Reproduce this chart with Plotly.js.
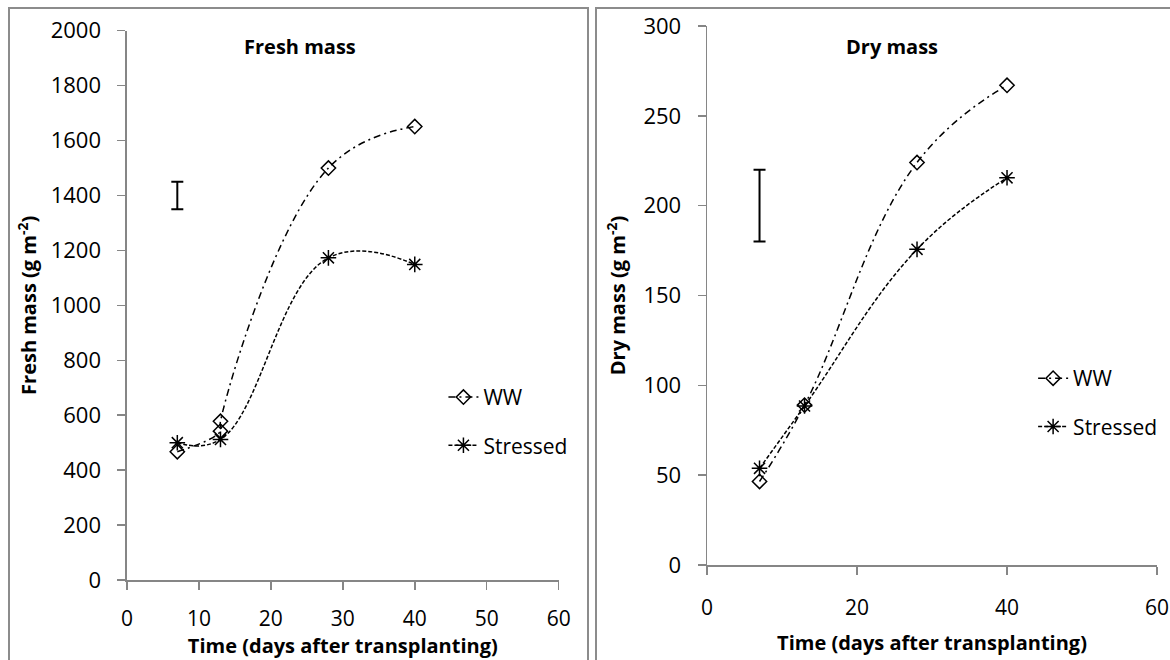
<!DOCTYPE html>
<html>
<head>
<meta charset="utf-8">
<script src="https://cdn.plot.ly/plotly-3.0.1.min.js"></script>
<style>html,body{margin:0;padding:0;background:#fff}#chart{width:1170px;height:660px}</style>
</head>
<body>
<div id="chart"></div>
<script>
// Data
const days = [7, 13, 28, 40];
const wwDays = [7, 13, 13, 28, 40];
const freshWW = [467, 542, 578, 1500, 1651];
const freshStressed = [500, 512, 1173, 1149];
const dryWW = [46.5, 89, 224, 267];
const dryStressed = [53.8, 88.5, 175.7, 215.5];
const freshLSDx = [7];
const freshLSDy = [1400];
const freshLSDhalf = [50];
const dryLSDx = [7];
const dryLSDy = [200];
const dryLSDhalf = [20];
const seriesNames = ['WW', 'Stressed'];
const panelTitles = ['Fresh mass', 'Dry mass'];
const xTitle = 'Time (days after transplanting)';
const yTitles = ['Fresh mass (g m<sup>-2</sup>)', 'Dry mass (g m<sup>-2</sup>)'];

const FONT = 'Open Sans, Noto Sans, sans-serif';
const AX = '#868686';
const wwLine = {color: 'black', width: 1.5, dash: '7px,4px,2px,4px', shape: 'spline', smoothing: 1.2};
const stLine = {color: 'black', width: 1.5, dash: '4px,2px', shape: 'spline', smoothing: 1.2};
const wwMarker = {symbol: 'diamond-open', size: 11, color: 'black', line: {width: 1.5, color: 'black'}};
const stMarker = {symbol: 'asterisk-open', size: 13, color: 'black', line: {width: 1.5, color: 'black'}};

const traces = [
  {x: wwDays, y: freshWW, name: seriesNames[0], mode: 'lines+markers', line: wwLine, marker: wwMarker,
   xaxis: 'x', yaxis: 'y', legend: 'legend', legendgroup: 'a'},
  {x: days, y: freshStressed, name: seriesNames[1], mode: 'lines+markers', line: stLine, marker: stMarker,
   xaxis: 'x', yaxis: 'y', legend: 'legend', legendgroup: 'b'},
  {x: freshLSDx, y: freshLSDy, mode: 'markers', marker: {size: 1, opacity: 0}, showlegend: false, hoverinfo: 'skip',
   error_y: {type: 'data', array: freshLSDhalf, visible: true, color: 'black', thickness: 2, width: 6},
   xaxis: 'x', yaxis: 'y'},
  {x: days, y: dryWW, name: seriesNames[0], mode: 'lines+markers', line: wwLine, marker: wwMarker,
   xaxis: 'x2', yaxis: 'y2', legend: 'legend2', legendgroup: 'c'},
  {x: days, y: dryStressed, name: seriesNames[1], mode: 'lines+markers', line: stLine, marker: stMarker,
   xaxis: 'x2', yaxis: 'y2', legend: 'legend2', legendgroup: 'd'},
  {x: dryLSDx, y: dryLSDy, mode: 'markers', marker: {size: 1, opacity: 0}, showlegend: false, hoverinfo: 'skip',
   error_y: {type: 'data', array: dryLSDhalf, visible: true, color: 'black', thickness: 2, width: 6},
   xaxis: 'x2', yaxis: 'y2'}
];

const yTickFont = {family: FONT, size: 22, color: 'black'};
const xTickFont = {family: FONT, size: 21, color: 'black'};
const titleFont = {family: FONT, size: 20, color: 'black', weight: 'bold'};

function xax(domain, dtick, anchor, labelStandoff, standoff) {
  return {domain: domain, range: [0, 60], dtick: dtick, tick0: 0, anchor: anchor,
    showgrid: false, zeroline: false, showline: true, linecolor: AX, linewidth: 1.5,
    ticks: 'outside', ticklen: 8, tickwidth: 1.5, tickcolor: AX, tickfont: xTickFont,
    ticklabelstandoff: labelStandoff, automargin: false, fixedrange: true,
    title: {text: xTitle, font: titleFont, standoff: standoff}};
}
function xcross(overlay, domain, dtick, anchor) {
  return {domain: domain, range: [0, 60], dtick: dtick, tick0: 0, anchor: anchor, overlaying: overlay,
    showgrid: false, zeroline: false, showline: false, showticklabels: false,
    ticks: 'inside', ticklen: 8, tickwidth: 1.5, tickcolor: AX, automargin: false, fixedrange: true};
}
function yax(domain, range, dtick, anchor, title, standoff) {
  return {domain: domain, range: range, dtick: dtick, tick0: 0, anchor: anchor,
    showgrid: false, zeroline: false, showline: true, linecolor: AX, linewidth: 1.5,
    ticks: 'outside', ticklen: 8, tickwidth: 1.5, tickcolor: AX, tickfont: yTickFont,
    ticklabelstandoff: 12, automargin: false, fixedrange: true,
    title: {text: title, font: titleFont, standoff: standoff}};
}

const layout = {
  width: 1170, height: 660,
  margin: {l: 0, r: 0, t: 0, b: 0},
  paper_bgcolor: 'white', plot_bgcolor: 'white',
  font: {family: FONT, color: 'black'},
  showlegend: true,
  xaxis: xax([0.1085, 0.4775], 10, 'y', 11, 8),
  yaxis: yax([0.1212, 0.9535], [0, 2000], 200, 'x', yTitles[0], 8),
  xaxis2: xax([0.6043, 0.9889], 20, 'y2', 15, 16),
  yaxis2: yax([0.1439, 0.9606], [0, 300], 50, 'x2', yTitles[1], 12),
  xaxis3: xcross('x', [0.1085, 0.4775], 10, 'y'),
  xaxis4: xcross('x2', [0.6043, 0.9889], 20, 'y2'),
  legend: {x: 0.379, xanchor: 'left', y: 0.429, yanchor: 'top', bgcolor: 'rgba(0,0,0,0)',
    font: {family: FONT, size: 21, color: 'black'}, tracegroupgap: 18, traceorder: 'grouped'},
  legend2: {x: 0.883, xanchor: 'left', y: 0.4575, yanchor: 'top', bgcolor: 'rgba(0,0,0,0)',
    font: {family: FONT, size: 21, color: 'black'}, tracegroupgap: 18, traceorder: 'grouped'},
  annotations: [
    {text: '<b>' + panelTitles[0] + '</b>', xref: 'paper', yref: 'paper', x: 300 / 1170, y: 1 - 46 / 660,
     xanchor: 'center', yanchor: 'middle', showarrow: false, font: {family: FONT, size: 20, color: 'black'}},
    {text: '<b>' + panelTitles[1] + '</b>', xref: 'paper', yref: 'paper', x: 892 / 1170, y: 1 - 46 / 660,
     xanchor: 'center', yanchor: 'middle', showarrow: false, font: {family: FONT, size: 20, color: 'black'}}
  ],
  shapes: [
    {type: 'rect', xref: 'paper', yref: 'paper', x0: 9 / 1170, x1: 588 / 1170, y0: -0.05, y1: 1 - 8 / 660,
     line: {color: '#8c8c8c', width: 2}, layer: 'below'},
    {type: 'rect', xref: 'paper', yref: 'paper', x0: 596 / 1170, x1: 1.05, y0: -0.05, y1: 1 - 8 / 660,
     line: {color: '#8c8c8c', width: 2}, layer: 'below'}
  ]
};

Plotly.newPlot('chart', traces, layout, {staticPlot: true, displayModeBar: false});
</script>
</body>
</html>
